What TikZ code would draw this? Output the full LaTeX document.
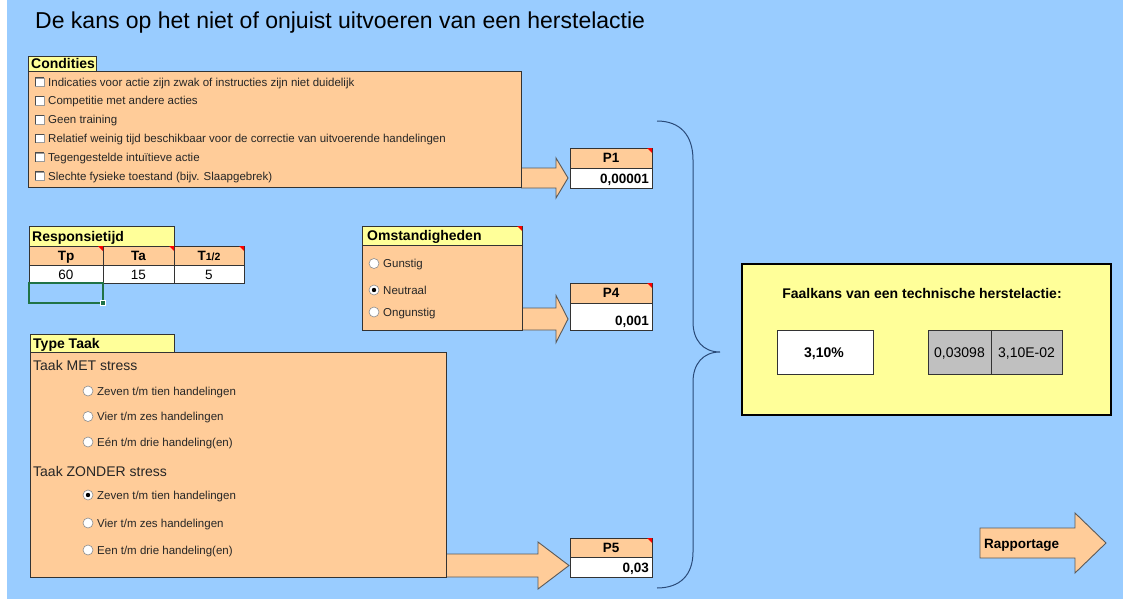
\documentclass[tikz,border=0pt]{standalone}
\usepackage{fontspec}
\setmainfont{Liberation Sans}
\usetikzlibrary{calc}
\definecolor{bgblue}{HTML}{99CCFF}
\definecolor{orng}{HTML}{FFCC99}
\definecolor{ylw}{HTML}{FFFF99}
\definecolor{gry}{HTML}{C0C0C0}
\definecolor{edgec}{HTML}{333333}
\definecolor{arrowedge}{HTML}{5A5A5A}
\definecolor{bracecol}{HTML}{2A4A78}
\definecolor{selgreen}{HTML}{217346}
\newcommand\mkrect[6]{%
  \pgfmathsetmacro\rw{#5-#3}\pgfmathsetmacro\rh{#6-#4}%
  \node[#2, minimum width=\rw pt, minimum height=\rh pt, inner sep=0pt, outer sep=0pt] (#1) at ({(#3+#5)/2},{(#4+#6)/2}) {};}
\newcommand\redtri[1]{\fill[red] ($(#1.north east)+(-5,0)$) -- (#1.north east) -- ($(#1.north east)+(0,5)$) -- cycle;}
\newcommand\blockarrow[6]{%
  \filldraw[barrow] (#1,{#4-#5}) -- (#2,{#4-#5}) -- (#2,{#4-#6}) -- (#3,#4) -- (#2,{#4+#6}) -- (#2,{#4+#5}) -- (#1,{#4+#5});}
\tikzset{
  orbox/.style={draw=edgec, line width=0.8pt, fill=orng},
  ylwbox/.style={draw=edgec, line width=0.8pt, fill=ylw},
  whbox/.style={draw=edgec, line width=0.8pt, fill=white},
  grbox/.style={draw=edgec, line width=0.8pt, fill=gry},
  faalbox/.style={draw=black, line width=1.8pt, fill=ylw},
  selbox/.style={draw=selgreen, line width=1.6pt},
  barrow/.style={fill=orng, draw=arrowedge, line width=0.9pt, line join=miter},
  hdrtxt/.style={anchor=base west, inner sep=0pt, font=\bfseries\fontsize{14}{16}\selectfont},
  smalltxt/.style={anchor=base west, inner sep=0pt, font=\fontsize{11.5}{13}\selectfont, text=black!85},
  midtxt/.style={anchor=base west, inner sep=0pt, font=\fontsize{14}{16}\selectfont, text=black!85},
  celltxt/.style={anchor=base, inner sep=0pt, font=\fontsize{13.5}{15}\selectfont},
  cellbold/.style={anchor=base, inner sep=0pt, font=\bfseries\fontsize{13.5}{15}\selectfont},
  chk/.style={draw=gray!80, fill=white, minimum size=8.5pt, inner sep=0pt},
  radio/.style={circle, draw=gray!90, fill=white, line width=0.6pt, minimum size=10pt, inner sep=0pt},
}
\begin{document}
\begin{tikzpicture}[x=1pt,y=-1pt]
\useasboundingbox (0,0) rectangle (1123,599);
\fill[white] (0,0) rectangle (1123,599);
\fill[bgblue] (7,0) rectangle (1123,599);

% title
\node[anchor=base west, inner sep=0pt, font=\fontsize{23}{27}\selectfont] (title) at (35,28.5) {De kans op het niet of onjuist uitvoeren van een herstelactie};

% arrows (drawn under boxes)
\blockarrow{521}{556}{568}{178}{10}{20}
\blockarrow{522}{556}{568}{319}{11}{23.5}
\blockarrow{446}{538}{569}{565.5}{11.5}{23.5}

% Condities
\mkrect{condh}{ylwbox}{28}{56}{96}{71}
\mkrect{cond}{orbox}{28}{71}{521}{187}
\node[hdrtxt] (condt) at (31,68.5) {Condities};
\foreach \t [count=\i from 0] in {{Indicaties voor actie zijn zwak of instructies zijn niet duidelijk},{Competitie met andere acties},{Geen training},{Relatief weinig tijd beschikbaar voor de correctie van uitvoerende handelingen},{Tegengestelde intuïtieve actie},{Slechte fysieke toestand (bijv. Slaapgebrek)}}{
  \pgfmathsetmacro\yy{82+18.8*\i}
  \node[chk] (cb\i) at (39.5,\yy) {};
  \draw[gray!60!black, line width=0.6pt] (cb\i.south west) -- (cb\i.north west) -- (cb\i.north east);
  \node[smalltxt] (ct\i) at (48,\yy+4.1) {\t};
}

% Responsietijd
\mkrect{resph}{ylwbox}{29}{226}{174}{246}
\mkrect{tph}{orbox}{29}{246}{103}{265}
\mkrect{tah}{orbox}{103}{246}{174}{265}
\mkrect{thh}{orbox}{174}{246}{244}{265}
\mkrect{tpv}{whbox}{29}{265}{103}{283}
\mkrect{tav}{whbox}{103}{265}{174}{283}
\mkrect{thv}{whbox}{174}{265}{244}{283}
\node[hdrtxt] (respt) at (32,241) {Responsietijd};
\node[cellbold] (tpt) at (66,260.5) {Tp};
\node[cellbold] (tat) at (138.5,260.5) {Ta};
\node[cellbold] (tht) at (209,260.5) {T{\fontsize{10.5}{12}\selectfont 1/2}};
\node[celltxt] (tpn) at (66,279) {60};
\node[celltxt] (tan) at (138.5,279) {15};
\node[celltxt] (thn) at (209,279) {5};
\redtri{tph}\redtri{tah}\redtri{thh}
\mkrect{sel}{selbox}{29}{283}{103}{303}
\node[fill=selgreen, draw=white, line width=0.5pt, minimum size=5pt, inner sep=0pt] (handle) at (sel.south east) {};

% Omstandigheden
\mkrect{omsth}{ylwbox}{362}{226}{522}{245}
\mkrect{omst}{orbox}{362}{245}{522}{330}
\node[hdrtxt] (omstt) at (367,240.5) {Omstandigheden};
\redtri{omsth}
\node[radio] (ro1) at (374,263.5) {};
\node[radio] (ro2) at (374,290) {};
\fill[black] (ro2) circle (2.2pt);
\node[radio] (ro3) at (374,312) {};
\node[smalltxt] (rot1) at (383,267.6) {Gunstig};
\node[smalltxt] (rot2) at (383,294.1) {Neutraal};
\node[smalltxt] (rot3) at (383,316.1) {Ongunstig};

% Type Taak
\mkrect{typeh}{ylwbox}{30}{334}{174}{352}
\mkrect{type}{orbox}{30}{352}{446}{577}
\node[hdrtxt] (typet) at (33,348) {Type Taak};
\node[midtxt] (met) at (33,370) {Taak MET stress};
\node[midtxt] (zonder) at (33,476) {Taak ZONDER stress};
\foreach \t/\y/\n in {{Zeven t/m tien handelingen}/391/1,{Vier t/m zes handelingen}/416.5/2,{Eén t/m drie handeling(en)}/442/3,{Zeven t/m tien handelingen}/495/4,{Vier t/m zes handelingen}/523/5,{Een t/m drie handeling(en)}/550/6}{
  \node[radio] (rt\n) at (88,\y) {};
  \node[smalltxt] (rtt\n) at (97,\y+4.1) {\t};
}
\fill[black] (rt4) circle (2.2pt);

% P boxes
\mkrect{p1h}{orbox}{570}{148}{652}{168}
\mkrect{p1v}{whbox}{570}{168}{652}{188}
\mkrect{p4h}{orbox}{570}{283}{652}{303}
\mkrect{p4v}{whbox}{570}{303}{652}{330}
\mkrect{p5h}{orbox}{570}{538}{652}{557}
\mkrect{p5v}{whbox}{570}{557}{652}{577}
\redtri{p1h}\redtri{p4h}\redtri{p5h}
\node[cellbold] (p1t) at (611,162.8) {P1};
\node[cellbold] (p4t) at (611,297.8) {P4};
\node[cellbold] (p5t) at (611,552.3) {P5};
\node[cellbold, anchor=base east] (p1n) at (649,183.5) {0,00001};
\node[cellbold, anchor=base east] (p4n) at (649,325.5) {0,001};
\node[cellbold, anchor=base east] (p5n) at (649,572.5) {0,03};

% Faalkans
\mkrect{faal}{faalbox}{742}{264}{1111}{415}
\node[anchor=base, inner sep=0pt, font=\bfseries\fontsize{14}{16}\selectfont] (faalt) at (922,298) {Faalkans van een technische herstelactie:};
\mkrect{pct}{whbox}{777}{330}{873}{374}
\mkrect{g1}{grbox}{928}{330}{991}{374}
\mkrect{g2}{grbox}{991}{330}{1062}{374}
\node[anchor=base, inner sep=0pt, font=\bfseries\fontsize{14}{16}\selectfont] (pctt) at (824,357) {3,10\%};
\node[anchor=base, inner sep=0pt, font=\fontsize{14}{16}\selectfont] (g1t) at (959.5,357) {0,03098};
\node[anchor=base, inner sep=0pt, font=\fontsize{14}{16}\selectfont] (g2t) at (1026.5,357) {3,10E-02};

% Rapportage
\filldraw[barrow] (980,528) -- (1075,528) -- (1075,513) -- (1106,543) -- (1075,573) -- (1075,558) -- (980,558) -- cycle;
\node[anchor=base west, inner sep=0pt, font=\bfseries\fontsize{13.5}{15}\selectfont] (rapp) at (984,548) {Rapportage};

% brace
\draw[bracecol, line width=1pt] (657,121) .. controls (680,121) and (693,135) .. (693,160) -- (693,322) .. controls (693,340) and (703,352) .. (720,352) .. controls (703,352) and (693,364) .. (693,382) -- (693,552) .. controls (693,575) and (680,588) .. (657,588);
\end{tikzpicture}
\end{document}
